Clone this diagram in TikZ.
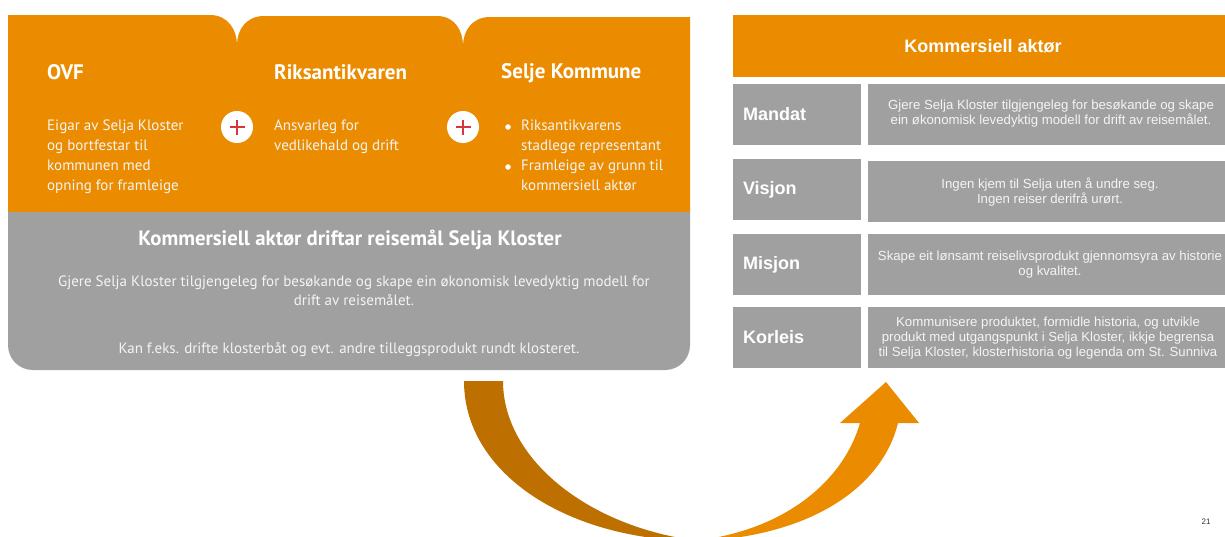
\documentclass[tikz,border=0pt]{standalone}
\usepackage{fontspec}
\setmainfont{Liberation Sans}
\newfontfamily\condfont{PT Sans}
\definecolor{org}{HTML}{EB8C00}
\definecolor{gry}{HTML}{A0A0A0}
\definecolor{darkorg}{HTML}{BD6F00}
\definecolor{plusred}{HTML}{D6363A}
\definecolor{txt}{HTML}{F4F4F4}
\begin{document}
\begin{tikzpicture}[x=1pt,y=-1pt,
  lhead/.style={anchor=west,inner sep=0,text=white,font=\condfont\bfseries\fontsize{21}{24}\selectfont},
  lbody/.style={anchor=north west,inner sep=0,align=left,text=txt,font=\condfont\fontsize{15}{20}\selectfont},
  gbody/.style={inner sep=0,align=center,text=txt,font=\condfont\fontsize{15}{19}\selectfont},
  bullet/.style={circle,fill=white,minimum size=5.5pt,inner sep=0},
  pluscirc/.style={circle,fill=white,minimum size=32pt,inner sep=0},
  plusbar/.style={plusred,line width=1.8pt},
  labbox/.style={fill=gry,minimum width=128pt,minimum height=61pt,text width=108pt,inner xsep=10pt,align=left,text=white,font=\bfseries\fontsize{18}{22}\selectfont},
  conbox/.style={fill=gry,minimum width=357pt,minimum height=61pt,inner sep=0},
  contxt/.style={inner sep=0,align=center,text=txt,font=\fontsize{13.2}{15}\selectfont}]
\useasboundingbox (0,0) rectangle (1225,536);
% left panel orange
\fill[org] (8,212) -- (8,15) -- (210,15) .. controls (228,15) and (237,30) .. (237,45)
  .. controls (237,30) and (246,16) .. (264,16) -- (437,16)
  .. controls (455,16) and (463,31) .. (463,46)
  .. controls (463,31) and (472,17) .. (490,17) -- (690,17) -- (690,212) -- cycle;
% left panel gray
\fill[gry] (8,212) -- (8,345) .. controls (8,359) and (19,370) .. (33,370) -- (665,370)
  .. controls (679,370) and (690,359) .. (690,345) -- (690,212) -- cycle;
% headings
\node[lhead] (ovf) at (47,72) {OVF};
\node[lhead] (riks) at (274,72) {Riksantikvaren};
\node[lhead] (selje) at (501,73) {Selje Kommune};
% bodies
\node[lbody] (ovft) at (47,120) {Eigar av Selja Kloster\\og bortfestar til\\kommunen med\\opning for framleige};
\node[lbody] (rikst) at (274,120) {Ansvarleg for\\vedlikehald og drift};
\node[bullet] (b1) at (508,127) {};
\node[lbody] (s1) at (521,120) {Riksantikvarens\\stadlege representant};
\node[bullet] (b2) at (508,167) {};
\node[lbody] (s2) at (521,160) {Framleige av grunn til\\kommersiell aktør};
% plus signs
\node[pluscirc] (p1) at (237,127) {};
\draw[plusbar] ([xshift=-7.5pt]p1.center) -- ([xshift=7.5pt]p1.center);
\draw[plusbar] ([yshift=-7.5pt]p1.center) -- ([yshift=7.5pt]p1.center);
\node[pluscirc] (p2) at (463,127) {};
\draw[plusbar] ([xshift=-7.5pt]p2.center) -- ([xshift=7.5pt]p2.center);
\draw[plusbar] ([yshift=-7.5pt]p2.center) -- ([yshift=7.5pt]p2.center);
% gray section text
\node[inner sep=0,text=white,font=\condfont\bfseries\fontsize{20.8}{24}\selectfont] (gtitle) at (350,240) {Kommersiell aktør driftar reisemål Selja Kloster};
\node[gbody] (gb1) at (354,291) {Gjere Selja Kloster tilgjengeleg for besøkande og skape ein økonomisk levedyktig modell for\\drift av reisemålet.};
\node[gbody] (gb2) at (349,350) {Kan f.eks. drifte klosterbåt og evt. andre tilleggsprodukt rundt klosteret.};
% right panel
\fill[org] (733,15) rectangle (1225,77);
\node[inner sep=0,text=white,font=\bfseries\fontsize{18}{22}\selectfont] (khead) at (983,46) {Kommersiell aktør};
\node[labbox] (mandat) at (797,114.5) {Mandat};
\node[conbox] (mandatC) at (1046.5,114.5) {};
\node[contxt] (mandatT) at (1051,114) {Gjere Selja Kloster tilgjengeleg for besøkande og skape\\ein økonomisk levedyktig modell for drift av reisemålet.};
\node[labbox] (visjon) at (797,189.5) {Visjon};
\node[conbox] (visjonC) at (1046.5,191.5) {};
\node[contxt] (visjonT) at (1050,192) {Ingen kjem til Selja uten å undre seg.\\Ingen reiser derifrå urørt.};
\node[labbox] (misjon) at (797,264.5) {Misjon};
\node[conbox] (misjonC) at (1046.5,264.5) {};
\node[contxt] (misjonT) at (1050,265) {Skape eit lønsamt reiselivsprodukt gjennomsyra av historie\\og kvalitet.};
\node[labbox] (korleis) at (797,337.5) {Korleis};
\node[conbox] (korleisC) at (1046.5,337.5) {};
\node[contxt] (korleisT) at (1048,338) {Kommunisere produktet, formidle historia, og utvikle\\produkt med utgangspunkt i Selja Kloster, ikkje begrensa\\til Selja Kloster, klosterhistoria og legenda om St. Sunniva};
% curved arrow
\fill[darkorg] (464,381) .. controls (464,475) and (570,541) .. (700,541)
  .. controls (590,528) and (503,460) .. (503,381) -- cycle;
\fill[org] (700,541) .. controls (810,536) and (882,488) .. (898,423) -- (919,423) -- (886,382)
  -- (840,423) -- (860,423) .. controls (842,485) and (780,530) .. (700,540) -- cycle;
% page number
\node[inner sep=0,text=black!80,font=\fontsize{8}{10}\selectfont] (pg) at (1206,522) {21};
\end{tikzpicture}
\end{document}
